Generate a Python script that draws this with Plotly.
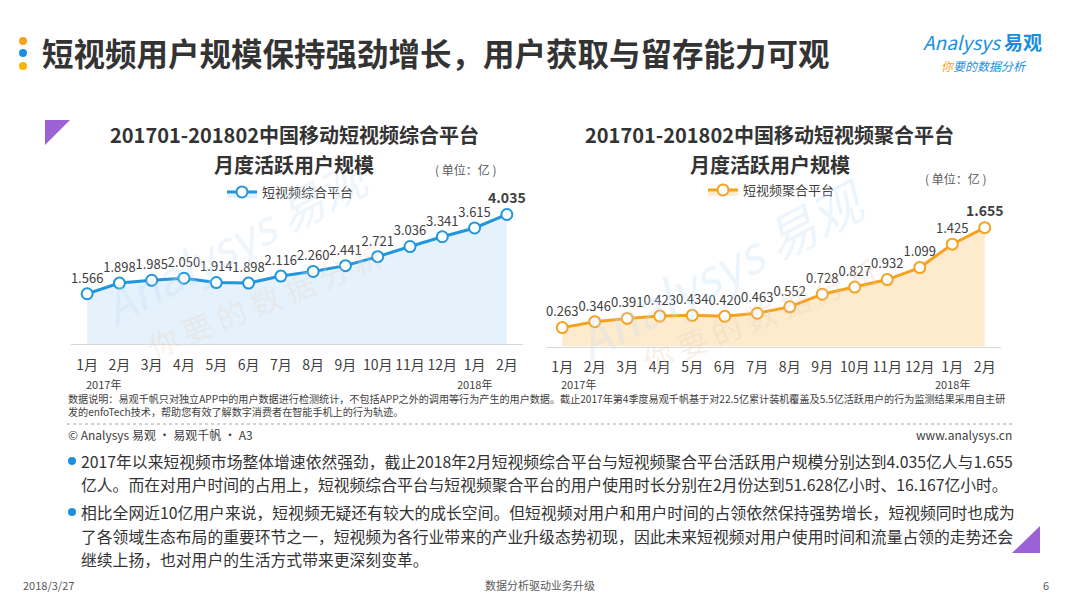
import plotly.graph_objects as go

# 数据
months = ["1月", "2月", "3月", "4月", "5月", "6月", "7月", "8月", "9月", "10月", "11月", "12月", "1月", "2月"]
zonghe = [1.566, 1.898, 1.985, 2.050, 1.914, 1.898, 2.116, 2.260, 2.441, 2.721, 3.036, 3.341, 3.615, 4.035]
juhe = [0.263, 0.346, 0.391, 0.423, 0.434, 0.420, 0.463, 0.552, 0.728, 0.827, 0.932, 1.099, 1.425, 1.655]

BLUE = "#2196DC"
ORANGE = "#F5A221"
FONT = "Noto Sans CJK SC"
W, H = 1080, 608


def px(x):
    return x / W


def py(y):
    return 1 - y / H


xi = list(range(len(months)))


def labels(vals):
    out = ["%.3f" % v for v in vals]
    out[-1] = "<b>%s</b>" % out[-1]
    return out


fig = go.Figure()

fig.add_trace(go.Scatter(
    x=xi, y=zonghe, name="短视频综合平台", mode="lines+markers+text",
    line=dict(color=BLUE, width=3),
    marker=dict(size=11, color="white", line=dict(color=BLUE, width=2)),
    fill="tozeroy", fillcolor="rgba(220,236,250,0.75)",
    text=labels(zonghe), textposition="top center", cliponaxis=False,
    textfont=dict(size=[13] * 13 + [14], color="#404040", family=FONT),
    xaxis="x", yaxis="y", legend="legend", showlegend=True,
))
fig.add_trace(go.Scatter(
    x=xi, y=juhe, name="短视频聚合平台", mode="lines+markers+text",
    line=dict(color=ORANGE, width=3),
    marker=dict(size=11, color="white", line=dict(color=ORANGE, width=2)),
    fill="tozeroy", fillcolor="rgba(253,228,190,0.75)",
    text=labels(juhe), textposition="top center", cliponaxis=False,
    textfont=dict(size=[13] * 13 + [14], color="#404040", family=FONT),
    xaxis="x2", yaxis="y2", legend="legend2", showlegend=True,
))

axis_x = dict(tickmode="array", tickvals=xi, ticktext=months, range=[-0.5, 13.5],
              showgrid=False, zeroline=False, showline=True, linecolor="#D9D9D9", linewidth=1,
              ticks="", tickfont=dict(size=14, color="#404040", family=FONT),
              ticklabelstandoff=8, fixedrange=True)
axis_y = dict(showgrid=False, zeroline=False, showline=False, showticklabels=False, fixedrange=True)

leg = dict(xanchor="left", yanchor="middle", visible=True,
           font=dict(size=13, color="#404040", family=FONT), bgcolor="rgba(0,0,0,0)",
           itemwidth=30)

fig.update_layout(
    width=W, height=H, margin=dict(l=0, r=0, t=0, b=0),
    paper_bgcolor="white", plot_bgcolor="rgba(0,0,0,0)",
    font=dict(family=FONT, color="#404040"), showlegend=True,
    xaxis=dict(axis_x, domain=[px(71), px(523)], anchor="y"),
    yaxis=dict(axis_y, domain=[py(344), py(183.5)], range=[0, 5], anchor="x"),
    xaxis2=dict(axis_x, domain=[px(546), px(1001)], anchor="y2"),
    yaxis2=dict(axis_y, domain=[py(346.5), py(188.5)], range=[0, 2.2], anchor="x2"),
    legend=dict(leg, x=px(222), y=py(192)),
    legend2=dict(leg, x=px(703), y=py(190)),
)

shapes = [
    # 标题左侧圆点
    dict(type="circle", xref="paper", yref="paper", x0=px(19), x1=px(27), y0=py(45), y1=py(37),
         fillcolor="#F5A31A", line=dict(width=0)),
    dict(type="circle", xref="paper", yref="paper", x0=px(19), x1=px(27), y0=py(57), y1=py(49),
         fillcolor="#1A8FE0", line=dict(width=0)),
    dict(type="circle", xref="paper", yref="paper", x0=px(19), x1=px(27), y0=py(70), y1=py(62),
         fillcolor="#F7B500", line=dict(width=0)),
    # 紫色三角
    dict(type="path", xref="paper", yref="paper",
         path="M %f %f L %f %f L %f %f Z" % (px(45), py(120), px(70), py(120), px(45), py(145)),
         fillcolor="#9B62D6", line=dict(width=0)),
    dict(type="path", xref="paper", yref="paper",
         path="M %f %f L %f %f L %f %f Z" % (px(1040), py(526), px(1040), py(553), px(1012), py(553)),
         fillcolor="#9B62D6", line=dict(width=0)),
    # 虚线
    dict(type="line", xref="paper", yref="paper", x0=px(67), x1=px(1015), y0=py(424), y1=py(424),
         line=dict(color="#A6A6A6", width=1, dash="dot")),
    # 项目符号
    dict(type="circle", xref="paper", yref="paper", x0=px(68), x1=px(76), y0=py(465), y1=py(457),
         fillcolor="#1A8FE0", line=dict(width=0)),
    dict(type="circle", xref="paper", yref="paper", x0=px(68), x1=px(76), y0=py(516), y1=py(508),
         fillcolor="#1A8FE0", line=dict(width=0)),
]
fig.update_layout(shapes=shapes)

ann = []


def text(x, y, s, size, color="#404040", xanchor="center", bold=False, **kw):
    ann.append(dict(x=px(x), y=py(y), xref="paper", yref="paper", text="<b>%s</b>" % s if bold else s,
                    showarrow=False, xanchor=xanchor, yanchor="middle", borderpad=0,
                    font=dict(size=size, color=color, family=FONT), **kw))


# 水印
wm = "rgba(195,222,244,0.3)"
text(235, 240, "<i>Analysys 易观</i>", 46, wm, textangle=-28)
text(265, 300, "你 要 的 数 据 分 析", 30, "rgba(235,215,200,0.3)", textangle=-22)
text(720, 268, "<i>Analysys 易观</i>", 50, wm, textangle=-28)
text(760, 315, "你 要 的 数 据 分 析", 30, "rgba(225,205,190,0.3)", textangle=-22)

# 主标题
text(41, 52, "短视频用户规模保持强劲增长，用户获取与留存能力可观", 31.5, "#333333", xanchor="left", bold=True)
# 标志
text(922, 42, "<i>Analysys</i> <b>易观</b>", 19, "#1A8FE0", xanchor="left")
text(940, 65, "<i><span style='color:#F5A31A'>你</span>要的数据分析</i>", 12, "#1A8FE0", xanchor="left")

# 图表标题
text(294, 134, "201701-201802中国移动短视频综合平台", 20, "#333333", bold=True)
text(294, 164, "月度活跃用户规模", 20, "#333333", bold=True)
text(770, 134, "201701-201802中国移动短视频聚合平台", 20, "#333333", bold=True)
text(770, 164, "月度活跃用户规模", 20, "#333333", bold=True)
text(466, 170, "( 单位：亿 )", 12, "#595959")
text(956, 178, "( 单位：亿 )", 12, "#595959")

# 年份
for xr in ("x", "x2"):
    for xv, yr in ((0.5, "2017年"), (12, "2018年")):
        ann.append(dict(x=xv, y=py(384), xref=xr, yref="paper", text=yr, showarrow=False,
                        yanchor="middle", font=dict(size=11, color="#404040", family=FONT)))

# 数据说明
text(67, 398, "数据说明：易观千帆只对独立APP中的用户数据进行检测统计，不包括APP之外的调用等行为产生的用户数据。截止2017年第4季度易观千帆基于对22.5亿累计装机覆盖及5.5亿活跃用户的行为监测结果采用自主研",
     10.1, "#404040", xanchor="left")
text(67, 411, "发的enfoTech技术，帮助您有效了解数字消费者在智能手机上的行为轨迹。", 10.1, "#404040", xanchor="left")
text(67, 434, "© Analysys 易观 · 易观千帆 · A3", 12, "#404040", xanchor="left")
text(1013, 434, "www.analysys.cn", 12, "#404040", xanchor="right")

# 正文
body = [
    (461, "2017年以来短视频市场整体增速依然强劲，截止2018年2月短视频综合平台与短视频聚合平台活跃用户规模分别达到4.035亿人与1.655"),
    (484, "亿人。而在对用户时间的占用上，短视频综合平台与短视频聚合平台的用户使用时长分别在2月份达到51.628亿小时、16.167亿小时。"),
    (512, "相比全网近10亿用户来说，短视频无疑还有较大的成长空间。但短视频对用户和用户时间的占领依然保持强势增长，短视频同时也成为"),
    (536, "了各领域生态布局的重要环节之一，短视频为各行业带来的产业升级态势初现，因此未来短视频对用户使用时间和流量占领的走势还会"),
    (559, "继续上扬，也对用户的生活方式带来更深刻变革。"),
]
for y, s in body:
    text(80, y, s, 15.8, "#333333", xanchor="left")

# 页脚
text(22, 585, "2018/3/27", 11, "#595959", xanchor="left")
text(540, 585, "数据分析驱动业务升级", 11, "#595959")
text(1050, 585, "6", 11, "#595959", xanchor="right")

fig.update_layout(annotations=ann)

fig.write_html("out.html", config={"displayModeBar": False},
               post_script="document.body.style.margin='0';")
